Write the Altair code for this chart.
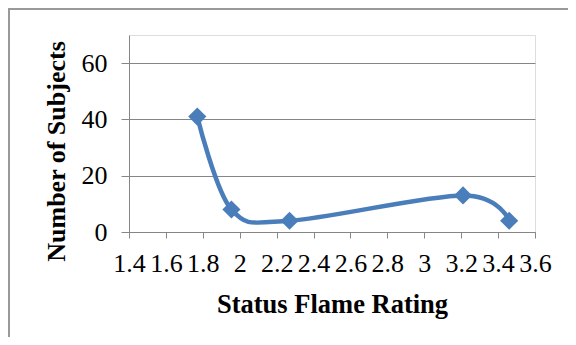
import altair as alt
import pandas as pd

rating = [1.77, 1.955, 2.27, 3.21, 3.46]
subjects = [41, 8, 4, 13, 4]
x_ticks = [1.4, 1.6, 1.8, 2.0, 2.2, 2.4, 2.6, 2.8, 3.0, 3.2, 3.4, 3.6]
y_ticks = [0, 20, 40, 60]

df = pd.DataFrame({"rating": rating, "subjects": subjects})

FONT = "Liberation Serif"
BLUE = "#4A7EBB"
GRID = "#868686"

x_enc = alt.X(
    "rating:Q",
    scale=alt.Scale(domain=[1.4, 3.6], nice=False, zero=False),
    axis=alt.Axis(
        title="Status Flame Rating",
        values=x_ticks,
        format="~g",
        grid=False,
        tickSize=6,
        labelPadding=12,
        labelFontSize=26,
        labelFont=FONT,
        labelColor="#000000",
        titleFont=FONT,
        titleFontSize=26.5,
        titleFontWeight="bold",
        titleColor="#000000",
        titleY=80,
        titleBaseline="alphabetic",
        domainColor=GRID,
        tickColor=GRID,
        labelFlush=False,
        labelOverlap=False,
    ),
)
y_enc = alt.Y(
    "subjects:Q",
    scale=alt.Scale(domain=[0, 70], nice=False),
    axis=alt.Axis(
        title="Number of Subjects",
        values=y_ticks,
        grid=True,
        gridColor=GRID,
        tickSize=8,
        labelPadding=14,
        labelFontSize=26,
        labelFont=FONT,
        labelColor="#000000",
        titleFont=FONT,
        titleFontSize=26,
        titleFontWeight="bold",
        titleColor="#000000",
        titleX=-65,
        titleY=116,
        titleAngle=-90,
        titleAlign="center",
        titleBaseline="alphabetic",
        domainColor=GRID,
        tickColor=GRID,
        labelFlush=False,
        labelOverlap=False,
    ),
)

border = alt.Chart(df).mark_rect(
    fillOpacity=0, stroke="#999999", strokeWidth=2
).encode(
    x=alt.value(-120), x2=alt.value(700), y=alt.value(-26), y2=alt.value(500)
)

line = alt.Chart(df).mark_line(
    color=BLUE, strokeWidth=4.5, interpolate="cardinal", tension=0
).encode(x=x_enc, y=y_enc)

pts = alt.Chart(df).mark_point(
    shape="diamond", filled=True, color=BLUE, size=330, opacity=1
).encode(x=x_enc, y=y_enc)

chart = (
    alt.layer(border, line, pts)
    .properties(
        width=406,
        height=197,
        autosize=alt.AutoSizeParams(type="none"),
        padding={"left": 121, "top": 27, "right": 33, "bottom": 105},
    )
    .configure_view(stroke=None)
    .configure(background="white")
)

chart.save("out.html", embed_options={"renderer": "svg", "actions": False})
